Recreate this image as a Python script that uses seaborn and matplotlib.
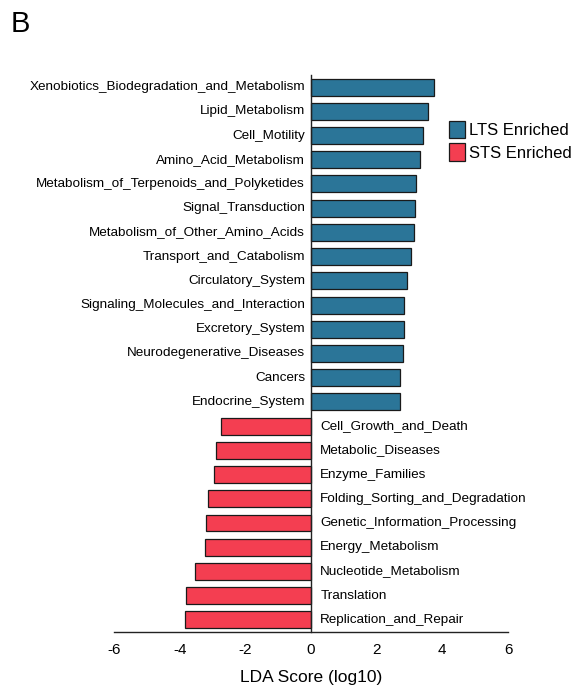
import matplotlib
matplotlib.use("Agg")
import matplotlib.pyplot as plt
import seaborn as sns
import pandas as pd

sns.set_theme(style="white")
plt.rcParams["font.family"] = ["Liberation Sans", "DejaVu Sans"]
plt.rcParams["text.color"] = "black"
plt.rcParams["axes.labelcolor"] = "black"
plt.rcParams["xtick.color"] = "black"

lts_features = [
    "Xenobiotics_Biodegradation_and_Metabolism",
    "Lipid_Metabolism",
    "Cell_Motility",
    "Amino_Acid_Metabolism",
    "Metabolism_of_Terpenoids_and_Polyketides",
    "Signal_Transduction",
    "Metabolism_of_Other_Amino_Acids",
    "Transport_and_Catabolism",
    "Circulatory_System",
    "Signaling_Molecules_and_Interaction",
    "Excretory_System",
    "Neurodegenerative_Diseases",
    "Cancers",
    "Endocrine_System",
]
lts_scores = [3.75, 3.55, 3.41, 3.31, 3.21, 3.18, 3.13, 3.06, 2.91, 2.83, 2.83, 2.80, 2.72, 2.72]

sts_features = [
    "Cell_Growth_and_Death",
    "Metabolic_Diseases",
    "Enzyme_Families",
    "Folding_Sorting_and_Degradation",
    "Genetic_Information_Processing",
    "Energy_Metabolism",
    "Nucleotide_Metabolism",
    "Translation",
    "Replication_and_Repair",
]
sts_scores = [-2.73, -2.88, -2.94, -3.13, -3.21, -3.24, -3.52, -3.80, -3.83]

groups = ["LTS Enriched", "STS Enriched"]
colors = ["#2B7598", "#F43E51"]
x_ticks = [-6, -4, -2, 0, 2, 4, 6]

df = pd.DataFrame({
    "feature": lts_features + sts_features,
    "score": lts_scores + sts_scores,
    "group": [groups[0]] * len(lts_features) + [groups[1]] * len(sts_features),
})

fig = plt.figure(figsize=(5.8, 6.9), dpi=100)
ax = fig.add_axes([0.1966, 0.0841, 0.6793, 0.8072])

sns.barplot(
    data=df, x="score", y="feature", hue="group", hue_order=groups,
    palette=colors, saturation=1, dodge=False, width=0.7, orient="h",
    edgecolor="#1a1a1a", linewidth=0.9, ax=ax, legend=True,
)

ax.set_xlim(-6, 6)
ax.set_ylim(len(df) - 0.5, -0.5)
ax.set_xticks(x_ticks)
ax.set_xticklabels([str(t) for t in x_ticks], fontsize=11)
ax.set_yticks([])
ax.set_ylabel("")
ax.set_xlabel("LDA Score (log10)", fontsize=12.5, labelpad=9)

for side in ("top", "right"):
    ax.spines[side].set_visible(False)
ax.spines["left"].set_position(("data", 0))
ax.spines["left"].set_color("#222222")
ax.spines["left"].set_linewidth(1.0)
ax.spines["bottom"].set_color("#222222")
ax.spines["bottom"].set_linewidth(1.0)
ax.tick_params(axis="x", direction="out", length=5, width=1, color="#222222", pad=3)
ax.tick_params(axis="y", left=False)

# feature names: on the opposite side of the zero line from each bar
for i, (name, val) in enumerate(zip(df["feature"], df["score"])):
    if val >= 0:
        ax.text(-0.18, i, name, ha="right", va="center", fontsize=9.7, color="black")
    else:
        ax.text(0.28, i, name, ha="left", va="center", fontsize=9.7, color="black")

handles, labels = ax.get_legend_handles_labels()
ax.get_legend().remove()
fig.legend(
    handles, labels, loc="upper left", bbox_to_anchor=(0.762, 0.835),
    frameon=False, fontsize=12, handlelength=1.0, handleheight=1.25,
    handletextpad=0.2, labelspacing=0.3, borderaxespad=0,
)

fig.text(0.018, 0.945, "B", fontsize=21, ha="left", va="bottom")

fig.savefig("out.png", dpi=100, facecolor="white")
